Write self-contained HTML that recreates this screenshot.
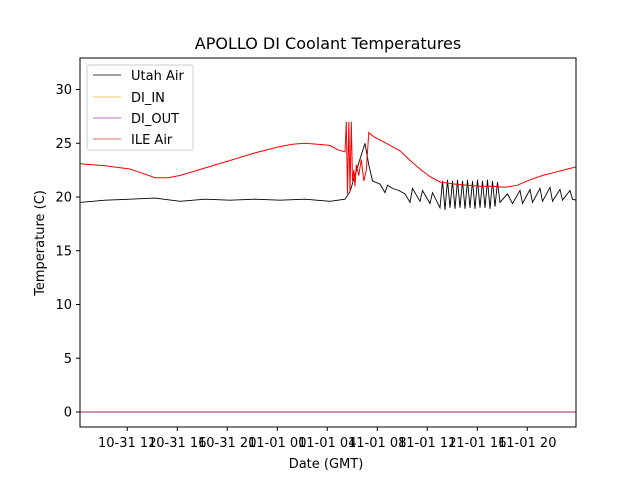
<!DOCTYPE html>
<html><head><meta charset="utf-8"><style>
body{margin:0;background:#fff}
svg{display:block;font-family:"DejaVu Sans","Liberation Sans",sans-serif}
</style></head><body>
<svg id="chart" width="640" height="480">
<defs><clipPath id="clip"><rect x="80" y="58" width="496" height="369"/></clipPath></defs>
<rect width="640" height="480" fill="#fff"/>
<text x="328" y="49" text-anchor="middle" font-size="16">APOLLO DI Coolant Temperatures</text>
<g id="marks" clip-path="url(#clip)"></g>
<g id="axes"></g>
<rect x="80" y="58" width="496" height="369" fill="none" stroke="#000" stroke-width="1"/>
<text x="326" y="468" text-anchor="middle" font-size="13">Date (GMT)</text>
<text transform="translate(44,243) rotate(-90)" text-anchor="middle" font-size="13">Temperature (C)</text>
<g>
<rect x="87" y="65" width="106" height="85" rx="2" fill="#fff" stroke="#ccc"/>
<line x1="93" y1="75" x2="121" y2="75" stroke="#000" stroke-width="0.8"/>
<text x="131" y="80" font-size="13">Utah Air</text>
<line x1="93" y1="97" x2="121" y2="97" stroke="#fbb43c" stroke-width="0.8"/>
<text x="131" y="102" font-size="13">DI_IN</text>
<line x1="93" y1="118" x2="121" y2="118" stroke="#b03ab0" stroke-width="0.8"/>
<text x="131" y="123" font-size="13">DI_OUT</text>
<line x1="93" y1="139" x2="121" y2="139" stroke="#e8383d" stroke-width="0.8"/>
<text x="131" y="144" font-size="13">ILE Air</text>
</g>
</svg>
<script>
// hours since 10-31 08:13
const redTimes=[0,2,4,5,6,7,8,10,12,14,16,17,18,19,20,20.6,21.2,21.3,21.4,21.5,21.6,21.7,21.8,21.9,22.0,22.1,22.3,22.5,22.7,22.9,23.1,23.5,24.5,25.6,26.5,27.3,28,28.8,30,31,32,33,34,35,36,37,38,39,39.7];
const redVals=[23.1,22.9,22.6,22.2,21.8,21.8,22.0,22.7,23.4,24.1,24.7,24.9,25.0,24.9,24.8,24.4,24.2,27.0,20.3,27.0,20.5,27.0,21.5,22.5,21.0,23.0,22.0,23.5,21.5,22.5,26.0,25.6,25.0,24.3,23.3,22.5,21.9,21.4,21.2,21.1,21.0,21.0,20.9,21.1,21.6,22.0,22.3,22.6,22.8];
const blackTimes=[0,2,4,6,8,10,12,14,16,18,20,21.2,21.6,22.2,22.8,23.1,23.4,24,24.4,24.6,25,25.5,26,26.4,26.6,27.2,27.4,28,28.2,28.8,29.0,29.2,29.4,29.6,29.8,30.0,30.2,30.4,30.6,30.8,31.0,31.2,31.4,31.6,31.8,32.0,32.2,32.4,32.6,32.8,33.0,33.2,33.4,33.6,34.2,34.6,35.2,35.4,36.0,36.2,36.8,37.0,37.6,37.8,38.4,38.6,39.2,39.4,39.7];
const blackVals=[19.5,19.7,19.8,19.9,19.6,19.8,19.7,19.8,19.7,19.8,19.6,19.8,20.5,22.8,25.0,23.0,21.5,21.2,20.4,21.1,20.8,20.6,20.3,19.5,20.8,19.6,20.6,19.4,20.4,19.0,21.5,18.8,21.6,19.0,21.5,18.9,21.6,19.0,21.5,18.9,21.6,19.0,21.5,18.9,21.6,19.0,21.5,19.0,21.6,18.9,21.5,19.1,21.4,19.5,20.3,19.4,20.6,19.4,20.7,19.5,20.8,19.6,20.9,19.6,20.7,19.7,20.6,19.8,19.7];
const zeroTimes=[0,39.7];
const zeroVals=[0,0];
const yTicks=[0,5,10,15,20,25,30];
const xTickHours=[3.78,7.78,11.78,15.78,19.78,23.78,27.78,31.78,35.78];
const xTickLabels=["10-31 12","10-31 16","10-31 20","11-01 00","11-01 04","11-01 08","11-01 12","11-01 16","11-01 20"];
const X=h=>80+h*12.5;
const Y=v=>412-v*10.75;
const NS="http://www.w3.org/2000/svg";
const marks=document.getElementById('marks'),axes=document.getElementById('axes');
function line(ts,vs,color,w,name){
  const p=document.createElementNS(NS,'polyline');
  p.setAttribute('points',ts.map((t,i)=>X(t).toFixed(1)+','+Y(vs[i]).toFixed(1)).join(' '));
  p.setAttribute('fill','none');p.setAttribute('stroke',color);p.setAttribute('stroke-width',w);
  
  
  marks.appendChild(p);
}
line(zeroTimes,zeroVals,'#a0206a',0.9,'zero-series-line');
line(blackTimes,blackVals,'#000',0.9,'utah-air-line');
line(redTimes,redVals,'#ff0000',1,'ile-air-line');
yTicks.forEach(v=>{
  const l=document.createElementNS(NS,'line');
  l.setAttribute('x1',76);l.setAttribute('x2',80);l.setAttribute('y1',Y(v));l.setAttribute('y2',Y(v));l.setAttribute('stroke','#000');
  
  
  axes.appendChild(l);
  const t=document.createElementNS(NS,'text');
  t.setAttribute('x',72);t.setAttribute('y',Y(v)+4.5);t.setAttribute('text-anchor','end');t.setAttribute('font-size','13');
  t.textContent=v;
  
  
  axes.appendChild(t);
});
xTickHours.forEach((h,i)=>{
  const l=document.createElementNS(NS,'line');
  l.setAttribute('x1',X(h));l.setAttribute('x2',X(h));l.setAttribute('y1',427);l.setAttribute('y2',431);l.setAttribute('stroke','#000');
  
  
  axes.appendChild(l);
  const t=document.createElementNS(NS,'text');
  t.setAttribute('x',X(h));t.setAttribute('y',447);t.setAttribute('text-anchor','middle');t.setAttribute('font-size','13');
  t.textContent=xTickLabels[i];
  
  
  axes.appendChild(t);
});
</script>
</body></html>
